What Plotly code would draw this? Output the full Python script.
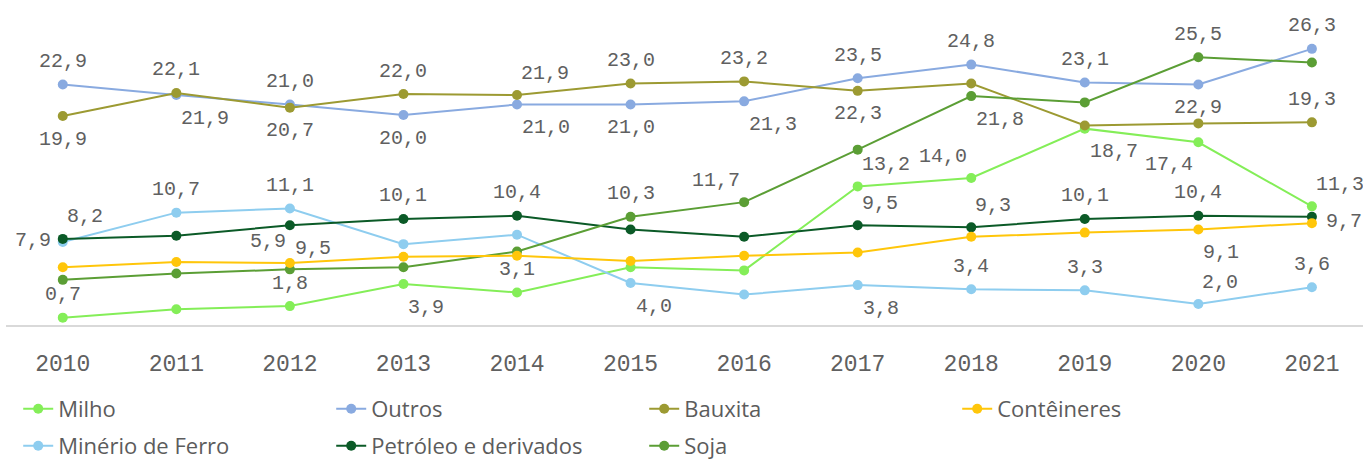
import plotly.graph_objects as go

# Years on the category axis
years = ["2010", "2011", "2012", "2013", "2014", "2015",
         "2016", "2017", "2018", "2019", "2020", "2021"]

# Share of each cargo group per year (%)
milho = [0.7, 1.5, 1.8, 3.9, 3.1, 5.5, 5.2, 13.2, 14.0, 18.7, 17.4, 11.3]
minerio = [7.9, 10.7, 11.1, 7.7, 8.6, 4.0, 2.9, 3.8, 3.4, 3.3, 2.0, 3.6]
outros = [22.9, 21.9, 21.0, 20.0, 21.0, 21.0, 21.3, 23.5, 24.8, 23.1, 22.9, 26.3]
petroleo = [8.2, 8.5, 9.5, 10.1, 10.4, 9.1, 8.4, 9.5, 9.3, 10.1, 10.4, 10.3]
bauxita = [19.9, 22.1, 20.7, 22.0, 21.9, 23.0, 23.2, 22.3, 23.0, 19.0, 19.2, 19.3]
soja = [4.3, 4.9, 5.3, 5.5, 7.0, 10.3, 11.7, 16.7, 21.8, 21.2, 25.5, 25.0]
conteineres = [5.5, 6.0, 5.9, 6.5, 6.6, 6.1, 6.6, 6.9, 8.4, 8.8, 9.1, 9.7]

# Where each value label sits around its point (None = not labelled)
milho_lbl = ["T", None, "T", "BR", "T", None, None, "TR", "TL", "BR", "BL", "TR"]
minerio_lbl = ["L", "T", "T", None, None, "BR", None, "BR", "T", "T", "TR", "T"]
outros_lbl = ["T", "BR", "T", "B", "BR", "B", "BR", "T", "T", "T", "B", "T"]
petroleo_lbl = ["TR", None, "BR", "T", "T", None, None, "TR", "TR", "T", "T", None]
bauxita_lbl = ["B", "T", "B", "T", "TR", "T", "T", "B", None, None, None, "T"]
soja_lbl = [None, None, None, None, None, "T", "TL", None, "BR", None, "T", None]
conteineres_lbl = [None, None, "TL", None, None, None, None, None, None, None, "BR", "R"]

series = [
    ("Milho", milho, milho_lbl, "#84EE58", "legend"),
    ("Minério de Ferro", minerio, minerio_lbl, "#8ECDEF", "legend2"),
    ("Outros", outros, outros_lbl, "#89AAE0", "legend"),
    ("Petróleo e derivados", petroleo, petroleo_lbl, "#0B5A27", "legend2"),
    ("Bauxita", bauxita, bauxita_lbl, "#9C9A32", "legend"),
    ("Soja", soja, soja_lbl, "#5B9E35", "legend2"),
    ("Contêineres", conteineres, conteineres_lbl, "#FFC60A", "legend"),
]

# anchor/shift for each label placement code
placement = {
    "T": ("center", 0, 23),
    "B": ("center", 0, -23),
    "TR": ("left", 2, 22),
    "BR": ("left", 3, -23),
    "TL": ("right", -2, 22),
    "BL": ("right", -3, -22),
    "L": ("right", -10, 2),
    "R": ("left", 12, 2),
}

mono = "Liberation Mono"
label_font = dict(family=mono, size=20, color="#606060")

fig = go.Figure()
annotations = []
for name, values, codes, color, leg in series:
    fig.add_trace(go.Scatter(
        x=years, y=values, name=name, mode="lines+markers",
        line=dict(color=color, width=2),
        marker=dict(color=color, size=10),
        legend=leg,
    ))
    for i, (v, code) in enumerate(zip(values, codes)):
        if code is None:
            continue
        xa, dx, dy = placement[code]
        # category axes take the serial index of the category
        annotations.append(dict(
            x=i, y=v, xref="x", yref="y",
            text=f"{v:.1f}".replace(".", ","),
            showarrow=False, xanchor=xa, yanchor="middle",
            xshift=dx, yshift=dy, font=label_font,
        ))

legend_style = dict(
    orientation="h", xanchor="left", yanchor="middle",
    x=0.009, yref="container",
    font=dict(family="Open Sans", size=22, color="#5C5C5C"),
    entrywidth=268, entrywidthmode="pixels",
    bgcolor="rgba(0,0,0,0)", itemclick=False,
)

fig.update_layout(
    width=1363, height=464,
    margin=dict(l=6, r=0, t=10, b=139, autoexpand=False),
    paper_bgcolor="white", plot_bgcolor="white",
    showlegend=True,
    legend=dict(y=1 - 409 / 464, **legend_style),
    legend2=dict(y=1 - 446 / 464, **legend_style),
    annotations=annotations,
    xaxis=dict(
        type="category", range=[-0.5, 11.45],
        showgrid=False, zeroline=False,
        showline=True, linecolor="#D9D9D9", linewidth=2,
        ticks="", ticklabelstandoff=16,
        tickfont=dict(family=mono, size=23, color="#606060"),
    ),
    yaxis=dict(range=[0, 30], visible=False, fixedrange=True),
)

fig.write_html("out.html")
